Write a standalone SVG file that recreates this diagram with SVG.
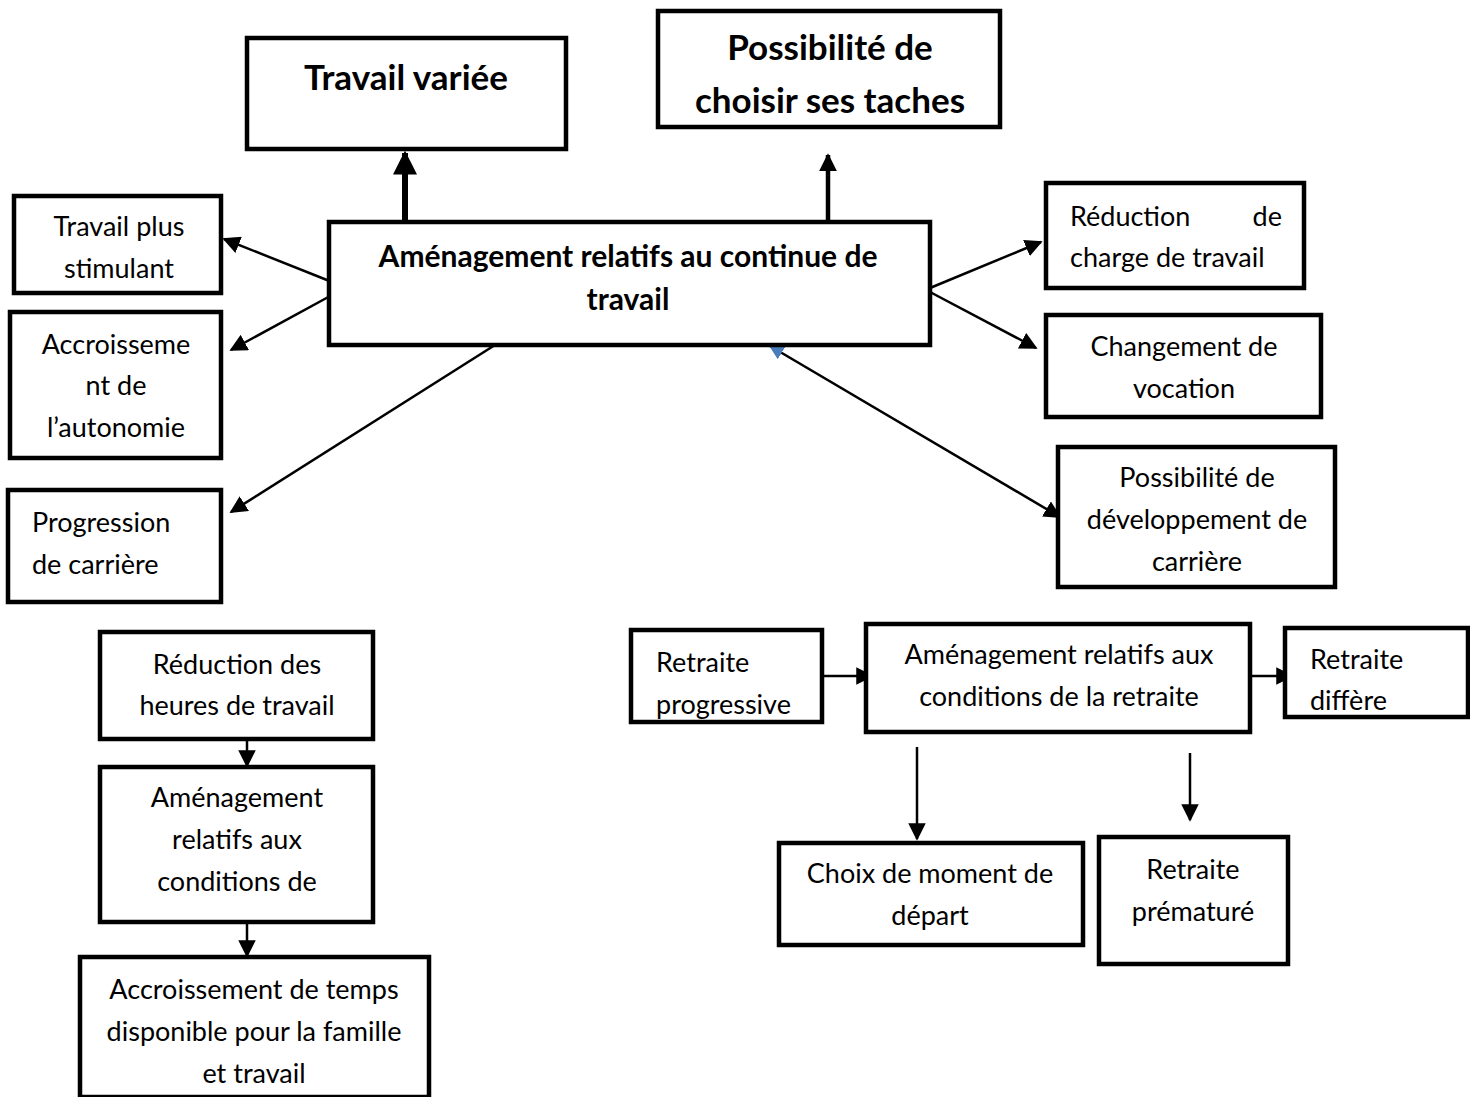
<svg xmlns="http://www.w3.org/2000/svg" width="1470" height="1097" viewBox="0 0 1470 1097">
  <style>
    .box { fill: #fff; stroke: #000; stroke-width: 4.5; }
    .t { font-family: Lato, "Liberation Sans", sans-serif; font-size: 27px; fill: #000; }
    .c { text-anchor: middle; }
    .b { font-weight: bold; font-size: 30px; }
    .big { font-size: 35px; }
    .ln { stroke: #000; stroke-width: 2.5; fill: none; }
  </style>
  <defs>
    <marker id="ah" viewBox="0 0 10 10" refX="9" refY="5" markerWidth="7" markerHeight="7" markerUnits="strokeWidth" orient="auto">
      <path d="M0,0 L10,5 L0,10 z" fill="#000"/>
    </marker>
    <marker id="ahBlue" viewBox="0 0 10 10" refX="1" refY="5" markerWidth="6" markerHeight="6" markerUnits="strokeWidth" orient="auto">
      <path d="M10,0 L0,5 L10,10 z" fill="#4a7ebb"/>
    </marker>
    <marker id="ahThick" viewBox="0 0 10 10" refX="9" refY="5" markerWidth="4" markerHeight="4" markerUnits="strokeWidth" orient="auto">
      <path d="M0,0 L10,5 L0,10 z" fill="#000"/>
    </marker>
  </defs>

  <!-- connectors -->
  <g id="connectors">
    <line x1="405" y1="222" x2="405" y2="153" stroke="#000" stroke-width="6" marker-end="url(#ahThick)"/>
    <line x1="828" y1="222" x2="828" y2="155" stroke="#000" stroke-width="4.5" marker-end="url(#ahThick)"/>
    <line class="ln" x1="332" y1="282" x2="224" y2="239" marker-end="url(#ah)"/>
    <line class="ln" x1="332" y1="295" x2="231" y2="350" marker-end="url(#ah)"/>
    <line class="ln" x1="495" y1="345" x2="231" y2="512" marker-end="url(#ah)"/>
    <line class="ln" x1="930" y1="288" x2="1041" y2="242" marker-end="url(#ah)"/>
    <line class="ln" x1="930" y1="292" x2="1036" y2="348" marker-end="url(#ah)"/>
    <line class="ln" x1="770" y1="346" x2="1060" y2="517" marker-start="url(#ahBlue)" marker-end="url(#ah)"/>
    <line class="ln" x1="247" y1="739" x2="247" y2="766" marker-end="url(#ah)"/>
    <line class="ln" x1="247" y1="922" x2="247" y2="956" marker-end="url(#ah)"/>
    <line class="ln" x1="822" y1="676" x2="872" y2="676" marker-end="url(#ah)"/>
    <line class="ln" x1="1250" y1="676" x2="1292" y2="676" marker-end="url(#ah)"/>
    <line class="ln" x1="917" y1="747" x2="917" y2="839" marker-end="url(#ah)"/>
    <line class="ln" x1="1190" y1="753" x2="1190" y2="820" marker-end="url(#ah)"/>
  </g>

  <g id="travail-variee">
    <rect class="box" x="247" y="38" width="319" height="111"/>
    <text class="t b big c" x="406" y="90">Travail variée</text>
  </g>

  <g id="choisir-taches">
    <rect class="box" x="658" y="11" width="342" height="116"/>
    <text class="t b big c" x="830" y="60">Possibilité de</text>
    <text class="t b big c" x="830" y="113">choisir ses taches</text>
  </g>

  <g id="continue-travail">
    <rect class="box" x="329" y="222" width="601" height="123"/>
    <text class="t b c" x="628" y="267">Aménagement relatifs au continue de</text>
    <text class="t b c" x="628" y="310">travail</text>
  </g>

  <g id="stimulant">
    <rect class="box" x="14" y="196" width="207" height="97"/>
    <text class="t c" x="119" y="236">Travail plus</text>
    <text class="t c" x="119" y="278">stimulant</text>
  </g>

  <g id="autonomie">
    <rect class="box" x="10" y="312" width="211" height="146"/>
    <text class="t c" x="116" y="354">Accroisseme</text>
    <text class="t c" x="116" y="395">nt de</text>
    <text class="t c" x="116" y="437">l’autonomie</text>
  </g>

  <g id="progression">
    <rect class="box" x="8" y="490" width="213" height="112"/>
    <text class="t" x="32" y="532">Progression</text>
    <text class="t" x="32" y="574">de carrière</text>
  </g>

  <g id="reduction-charge">
    <rect class="box" x="1046" y="183" width="258" height="105"/>
    <text class="t" x="1070" y="226">Réduction</text>
    <text class="t" x="1282" y="226" text-anchor="end">de</text>
    <text class="t" x="1070" y="267">charge de travail</text>
  </g>

  <g id="vocation">
    <rect class="box" x="1046" y="315" width="275" height="102"/>
    <text class="t c" x="1184" y="356">Changement de</text>
    <text class="t c" x="1184" y="398">vocation</text>
  </g>

  <g id="developpement">
    <rect class="box" x="1058" y="447" width="277" height="140"/>
    <text class="t c" x="1197" y="487">Possibilité de</text>
    <text class="t c" x="1197" y="529">développement de</text>
    <text class="t c" x="1197" y="571">carrière</text>
  </g>

  <g id="reduction-heures">
    <rect class="box" x="100" y="632" width="273" height="107"/>
    <text class="t c" x="237" y="674">Réduction des</text>
    <text class="t c" x="237" y="715">heures de travail</text>
  </g>

  <g id="conditions">
    <rect class="box" x="100" y="767" width="273" height="155"/>
    <text class="t c" x="237" y="807">Aménagement</text>
    <text class="t c" x="237" y="849">relatifs aux</text>
    <text class="t c" x="237" y="891">conditions de</text>
  </g>

  <g id="temps-famille">
    <rect class="box" x="80" y="957" width="349" height="140"/>
    <text class="t c" x="254" y="999">Accroissement de temps</text>
    <text class="t c" x="254" y="1041">disponible pour la famille</text>
    <text class="t c" x="254" y="1083">et travail</text>
  </g>

  <g id="retraite-progressive">
    <rect class="box" x="631" y="630" width="191" height="92"/>
    <text class="t" x="656" y="672">Retraite</text>
    <text class="t" x="656" y="714">progressive</text>
  </g>

  <g id="conditions-retraite">
    <rect class="box" x="866" y="624" width="384" height="108"/>
    <text class="t c" x="1059" y="664">Aménagement relatifs aux</text>
    <text class="t c" x="1059" y="706">conditions de la retraite</text>
  </g>

  <g id="retraite-differe">
    <rect class="box" x="1285" y="628" width="183" height="89"/>
    <text class="t" x="1310" y="669">Retraite</text>
    <text class="t" x="1310" y="710">diffère</text>
  </g>

  <g id="moment-depart">
    <rect class="box" x="779" y="843" width="304" height="102"/>
    <text class="t c" x="930" y="883">Choix de moment de</text>
    <text class="t c" x="930" y="925">départ</text>
  </g>

  <g id="retraite-prematuree">
    <rect class="box" x="1099" y="837" width="189" height="127"/>
    <text class="t c" x="1193" y="879">Retraite</text>
    <text class="t c" x="1193" y="921">prématuré</text>
  </g>
</svg>
